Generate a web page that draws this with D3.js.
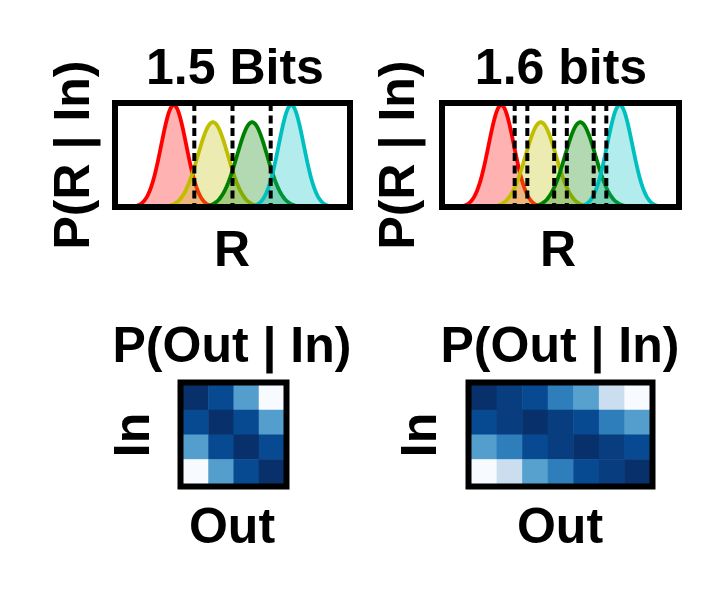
<!DOCTYPE html>
<html><head><meta charset="utf-8">
<script src="https://cdn.jsdelivr.net/npm/d3@7"></script>
<style>body{margin:0;background:#fff}svg{display:block}text{font-family:"Liberation Sans",Arial,sans-serif;font-weight:bold;fill:#000}</style>
</head><body>
<script>
// ---- data ----
const titles = ["1.5 Bits", "1.6 bits"];
const means = [3, 5, 7, 9];
const sigmas = [0.64, 0.77, 0.77, 0.64];
const colors = ["#ff0000", "#bfbf00", "#008000", "#00bfbf"];
const thresholds1 = [4.05, 6, 7.95];
const thresholds2 = [3.68, 4.32, 5.68, 6.32, 7.68, 8.32];
const rDomain = [0, 12];
const heat1 = [
  [1.0, 0.9, 0.57, 0.0],
  [0.9, 1.0, 0.9, 0.57],
  [0.57, 0.9, 1.0, 0.9],
  [0.0, 0.57, 0.9, 1.0]
];
const heat2 = [
  [1.0, 0.95, 0.9, 0.7, 0.56, 0.23, 0.0],
  [0.9, 0.95, 1.0, 0.95, 0.9, 0.7, 0.57],
  [0.57, 0.7, 0.9, 0.95, 1.0, 0.95, 0.9],
  [0.0, 0.23, 0.56, 0.7, 0.9, 0.95, 1.0]
];
const bluesStops = ["#f7fbff","#deebf7","#c6dbef","#9ecae1","#6baed6","#4292c6","#2171b5","#08519c","#08306b"];

const W = 725, H = 600, FS = 50;
const svg = d3.select("body").append("svg").attr("width", W).attr("height", H);

const blues = d3.scaleLinear().domain(d3.range(bluesStops.length).map(i => i/(bluesStops.length-1))).range(bluesStops).clamp(true);

function gauss(x, m, s){ return Math.exp(-0.5*((x-m)/s)**2)/(s*Math.sqrt(2*Math.PI)); }

function densityPanel(x0, x1, y0, y1, thresholds, title, cx){
  const x = d3.scaleLinear().domain(rDomain).range([x0, x1]);
  const ymax = d3.max(means.map((m,i)=>gauss(m,m,sigmas[i])));
  const y = d3.scaleLinear().domain([0, ymax]).range([y1, y0+2]);
  const g = svg.append("g");
  const xs = d3.range(rDomain[0], rDomain[1]+0.001, 0.02);
  means.forEach((m,i)=>{
    const pts = xs.map(v=>[v, gauss(v,m,sigmas[i])]);
    g.append("path").datum(pts)
      .attr("d", d3.area().x(d=>x(d[0])).y0(y(0)).y1(d=>y(d[1])))
      .attr("fill", colors[i]).attr("fill-opacity", 0.3);
    g.append("path").datum(pts)
      .attr("d", d3.line().x(d=>x(d[0])).y(d=>y(d[1])))
      .attr("fill", "none").attr("stroke", colors[i]).attr("stroke-width", 3.8);
  });
  thresholds.forEach(t=>{
    g.append("line").attr("x1", x(t)).attr("x2", x(t)).attr("y1", y0).attr("y2", y1)
      .attr("stroke", "#000").attr("stroke-width", 4).attr("stroke-dasharray", "8,4.5");
  });
  g.append("rect").attr("x", x0).attr("y", y0).attr("width", x1-x0).attr("height", y1-y0)
    .attr("fill", "none").attr("stroke", "#000").attr("stroke-width", 6);
  svg.append("text").attr("x", cx).attr("y", 84).attr("text-anchor", "middle").attr("font-size", FS).text(title);
  svg.append("text").attr("x", cx-3).attr("y", 266).attr("text-anchor", "middle").attr("font-size", FS).text("R");
}
densityPanel(115, 350, 103, 207, thresholds1, titles[0], 235);
densityPanel(442, 679, 103, 207, thresholds2, titles[1], 561);

svg.append("text").attr("transform", "translate(89,155) rotate(-90)").attr("text-anchor", "middle").attr("font-size", FS).text("P(R | In)");
svg.append("text").attr("transform", "translate(414,155) rotate(-90)").attr("text-anchor", "middle").attr("font-size", FS).text("P(R | In)");

function heatPanel(data, x0, x1, y0, y1, cx, inX){
  const nr = data.length, nc = data[0].length;
  const x = d3.scaleBand().domain(d3.range(nc)).range([x0, x1]);
  const y = d3.scaleBand().domain(d3.range(nr)).range([y0, y1]);
  const g = svg.append("g");
  data.forEach((row, r)=>row.forEach((v, c)=>{
    g.append("rect").attr("x", x(c)).attr("y", y(r)).attr("width", x.bandwidth()+0.5).attr("height", y.bandwidth()+0.5)
      .attr("fill", blues(v));
  }));
  g.append("rect").attr("x", x0-2.5).attr("y", y0-2.5).attr("width", x1-x0+5).attr("height", y1-y0+5)
    .attr("fill", "none").attr("stroke", "#000").attr("stroke-width", 6);
  svg.append("text").attr("x", cx).attr("y", 362).attr("text-anchor", "middle").attr("font-size", FS).text("P(Out | In)");
  svg.append("text").attr("x", cx).attr("y", 543).attr("text-anchor", "middle").attr("font-size", FS).text("Out");
  svg.append("text").attr("transform", `translate(${inX},435) rotate(-90)`).attr("text-anchor", "middle").attr("font-size", FS).text("In");
}
heatPanel(heat1, 183, 284, 385, 484, 232, 149);
heatPanel(heat2, 471, 650, 385, 484, 560, 436);
</script>
</body></html>
